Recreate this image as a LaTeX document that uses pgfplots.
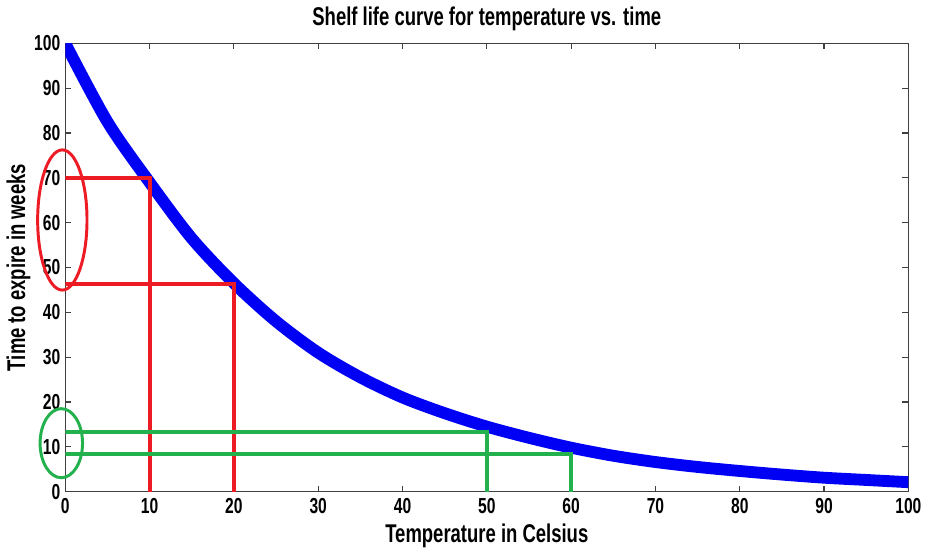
\documentclass[border=0pt]{standalone}
\usepackage{fontspec}
\setmainfont{Liberation Sans}[FakeStretch=0.72]
\usepackage{pgfplots}
\pgfplotsset{compat=1.18}

\definecolor{curveblue}{RGB}{0,0,245}
\definecolor{markred}{RGB}{237,28,36}
\definecolor{markgreen}{RGB}{34,177,76}

\begin{document}
\begin{tikzpicture}
  \begin{axis}[
      scale only axis,
      width=427pt, height=227pt,
      xmin=0, xmax=100, ymin=0, ymax=100,
      xtick={0,10,...,100}, ytick={0,10,...,100},
      tick align=inside,
      major tick length=3pt,
      axis line style={black!75, line width=0.6pt},
      every tick/.style={black!75, line width=0.6pt},
      /pgf/number format/assume math mode=true,
      tick label style={font=\bfseries\fontsize{11}{13}\selectfont},
      title={Shelf life curve for temperature vs. time},
      title style={font=\bfseries\fontsize{13}{15}\selectfont, yshift=-3pt},
      xlabel={Temperature in Celsius},
      ylabel={Time to expire in weeks},
      label style={font=\bfseries\fontsize{13}{15}\selectfont},
      xlabel style={yshift=2pt},
      ylabel style={yshift=-5pt},
      xticklabel style={yshift=0pt},
      yticklabel style={xshift=1pt},
    ]
    \addplot[curveblue, line width=6pt, smooth] coordinates {
        (0,100) (5,82.5) (10,69.0) (15,56.5) (20,46.5) (25,38.0)
        (30,31.0) (35,25.5) (40,21.0) (45,17.5) (50,14.5) (55,12.0)
        (60,9.8) (65,8.0) (70,6.6) (75,5.5) (80,4.6) (85,3.8)
        (90,3.1) (95,2.6) (100,2.1)
    };
    \addplot[markred, line width=2pt] coordinates {(0,70) (10,70) (10,0)};
    \addplot[markred, line width=2pt] coordinates {(0,46.3) (20,46.3) (20,0)};
    \addplot[markgreen, line width=2pt] coordinates {(0,13.3) (50,13.3) (50,0)};
    \addplot[markgreen, line width=2pt] coordinates {(0,8.3) (60,8.3) (60,0)};
    \coordinate (redc) at (rel axis cs:-0.0035,0.606);
    \coordinate (greenc) at (rel axis cs:-0.0047,0.108);
  \end{axis}
  \draw[markred, line width=1.5pt] (redc) ellipse [x radius=12.5pt, y radius=35.5pt];
  \draw[markgreen, line width=1.5pt] (greenc) ellipse [x radius=10.75pt, y radius=17.5pt];
\end{tikzpicture}
\end{document}
